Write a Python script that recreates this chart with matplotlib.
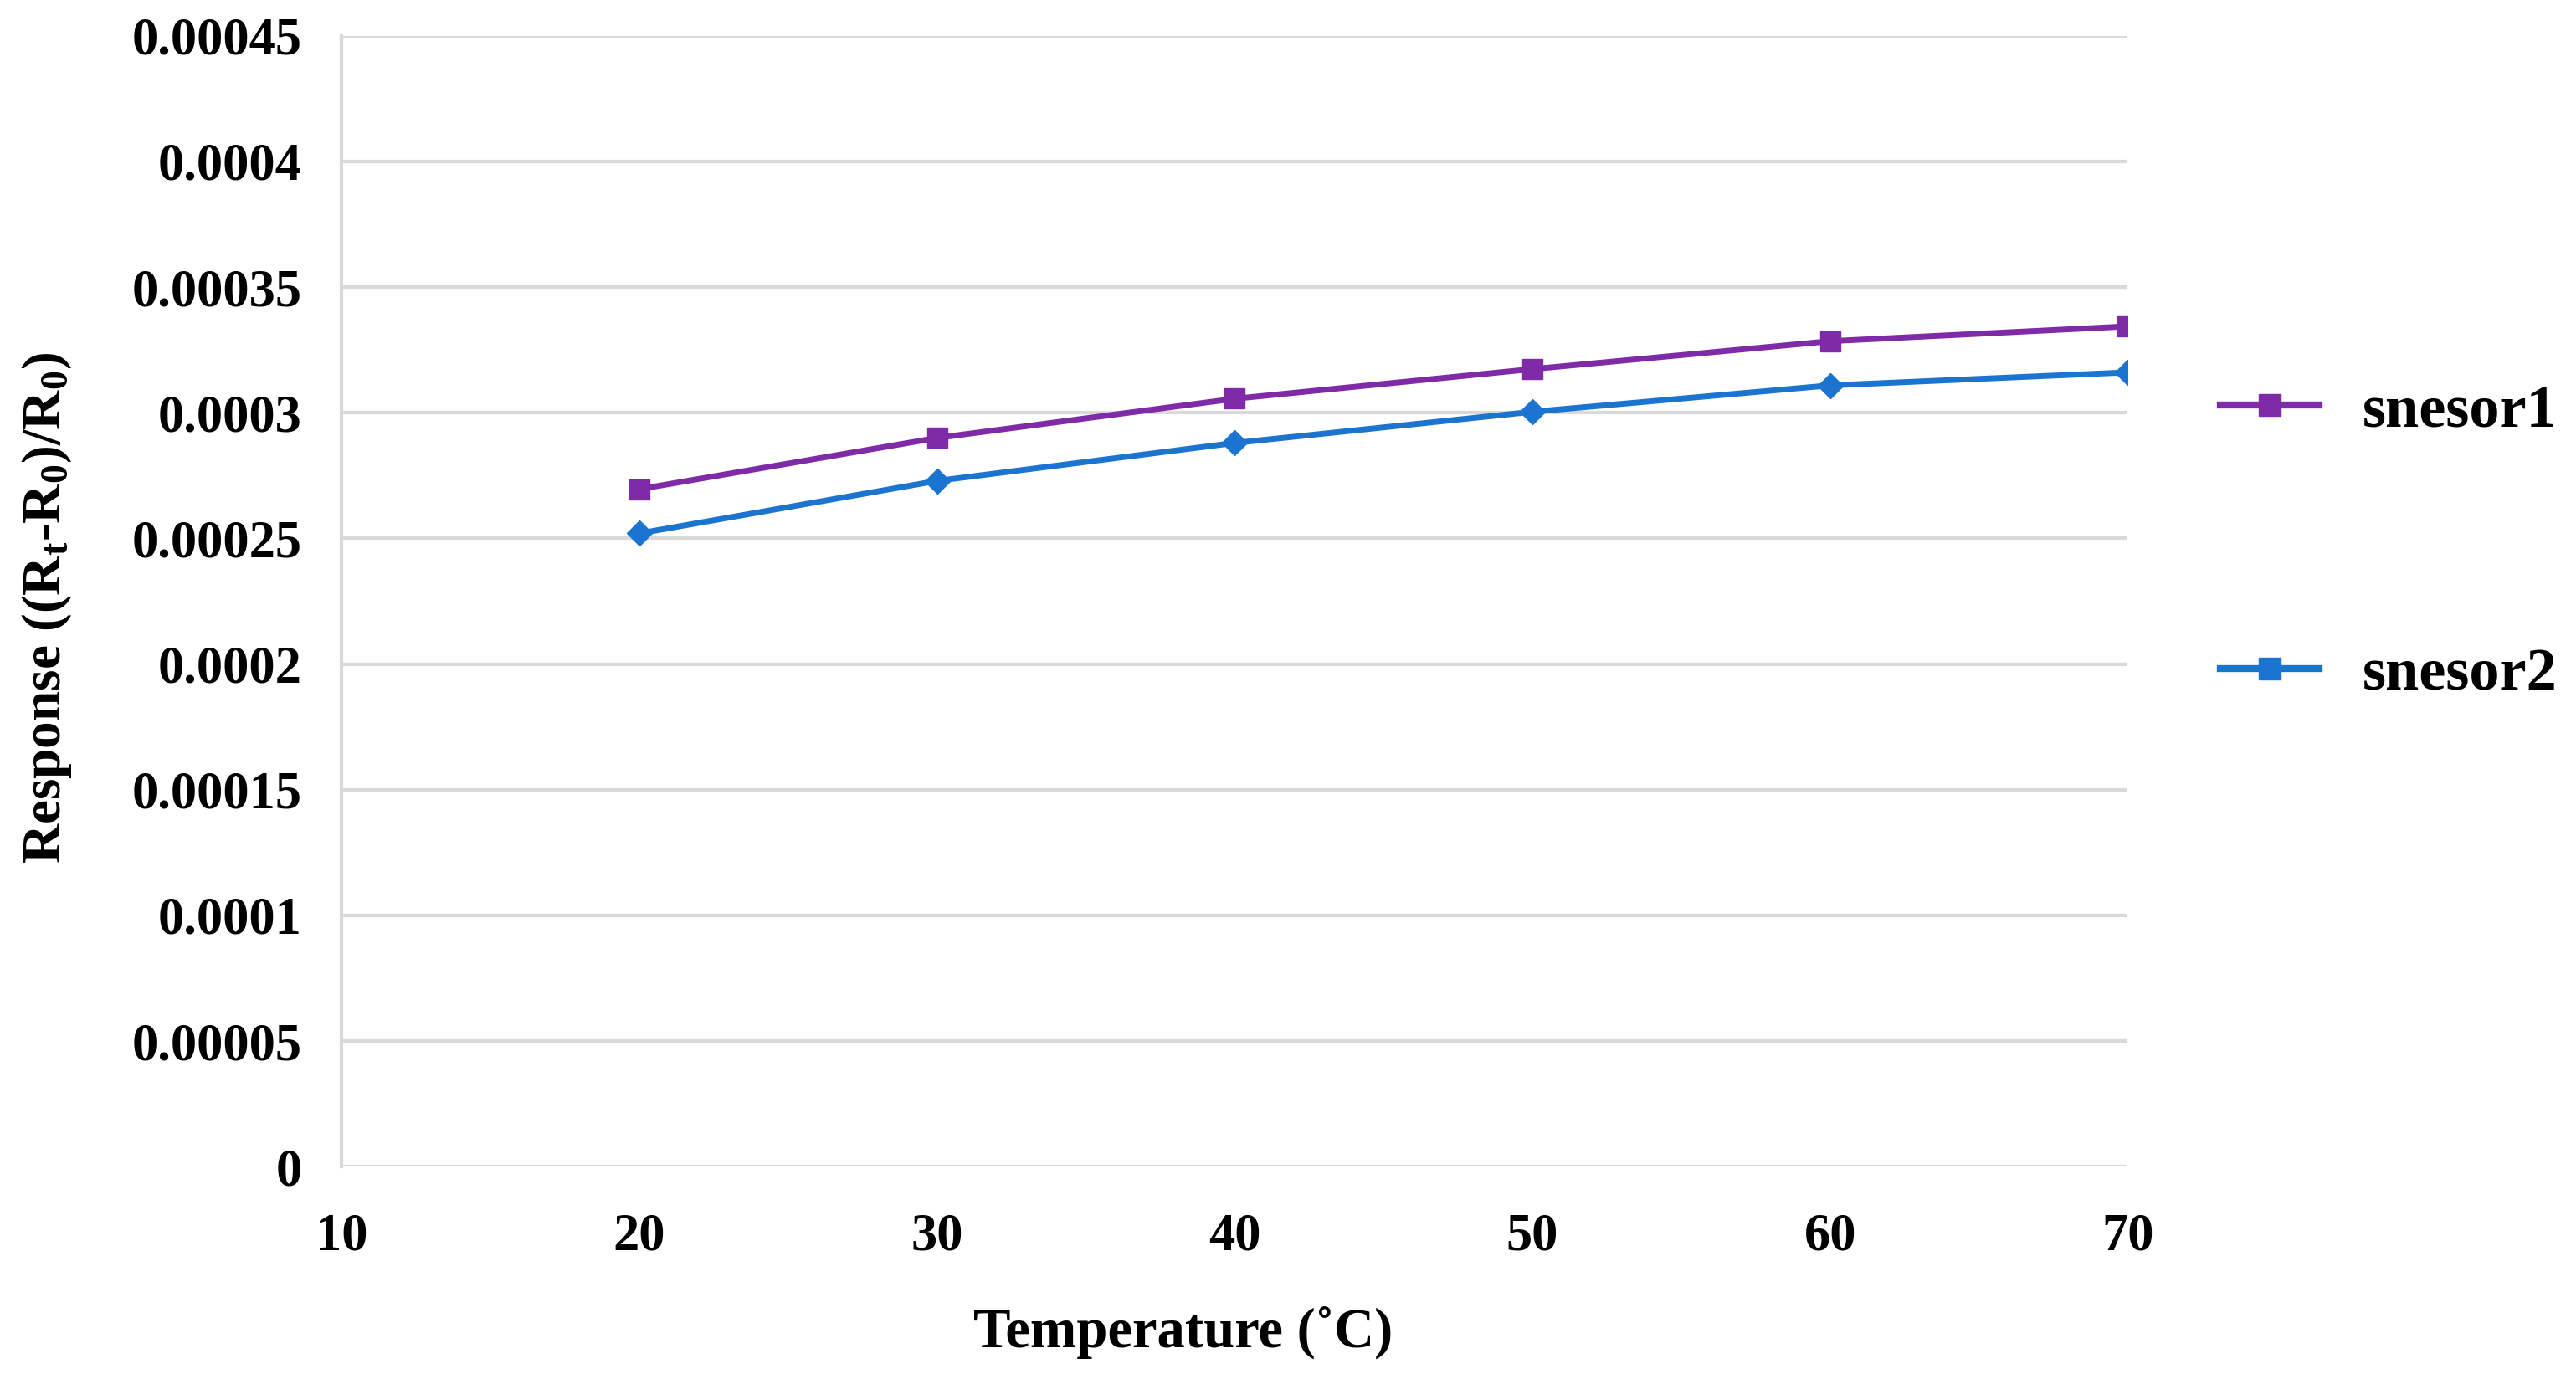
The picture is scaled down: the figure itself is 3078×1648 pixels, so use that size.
import matplotlib
matplotlib.use("Agg")
import matplotlib.pyplot as plt
from matplotlib.lines import Line2D
from matplotlib.ticker import FuncFormatter

# data
temps = [20, 30, 40, 50, 60, 70]
sensor1 = [0.0002696, 0.0002900, 0.0003056, 0.0003174, 0.0003285, 0.0003344]
sensor2 = [0.0002520, 0.0002729, 0.0002880, 0.0003004, 0.0003109, 0.0003161]
labels = ["snesor1", "snesor2"]
x_ticks = [10, 20, 30, 40, 50, 60, 70]
y_ticks = [0, 0.00005, 0.0001, 0.00015, 0.0002, 0.00025, 0.0003, 0.00035, 0.0004, 0.00045]

purple = "#7F2BA8"
blue = "#1B74CF"
grid_col = "#D9D9D9"

plt.rcParams['font.family'] = ['Liberation Serif', 'DejaVu Serif']
plt.rcParams['font.weight'] = 'bold'
plt.rcParams['mathtext.fontset'] = 'custom'
plt.rcParams['mathtext.rm'] = 'Liberation Serif:bold'
plt.rcParams['mathtext.it'] = 'Liberation Serif:bold'
plt.rcParams['mathtext.bf'] = 'Liberation Serif:bold'

fig = plt.figure(figsize=(30.78, 16.48), dpi=100)
ax = fig.add_axes([0.1326, 0.154, 0.8260 - 0.1326, 0.974 - 0.154])

ax.plot(temps, sensor1, color=purple, lw=5, marker='s', ms=17, zorder=3)
ax.plot(temps, sensor2, color=blue, lw=5, marker='D', ms=15, zorder=3)

ax.set_xlim(10, 70)
ax.set_ylim(0, 0.00045)
ax.set_xticks(x_ticks)
ax.set_yticks(y_ticks)
ax.yaxis.set_major_formatter(FuncFormatter(lambda v, p: f"{v:.5f}".rstrip('0').rstrip('.')))
ax.grid(axis='y', color=grid_col, lw=3, zorder=0)
ax.set_axisbelow(True)
for s in ['top', 'right', 'bottom']:
    ax.spines[s].set_visible(False)
ax.spines['left'].set_color(grid_col)
ax.spines['left'].set_linewidth(3)
ax.tick_params(axis='both', length=0, labelsize=45)
ax.tick_params(axis='x', pad=40)
ax.tick_params(axis='y', pad=34)

ax.set_xlabel("Temperature (˚C)", fontsize=48, fontweight='bold', labelpad=38)
ax.xaxis.label.set_x(0.471)
ax.set_ylabel(r"Response ((R$_t$-R$_0$)/R$_0$)", fontsize=47, fontweight='bold', labelpad=50)
ax.yaxis.label.set_y(0.494)

handles = [Line2D([], [], color=purple, lw=6, marker='s', ms=19),
           Line2D([], [], color=blue, lw=6, marker='s', ms=19)]
fig.legend(handles, labels, loc='center left', bbox_to_anchor=(0.862, 0.606),
           frameon=False, fontsize=52, labelspacing=3.45, handlelength=1.63,
           handletextpad=0.72, borderpad=0, borderaxespad=0)

fig.savefig("out.png", dpi=100, facecolor='white')
